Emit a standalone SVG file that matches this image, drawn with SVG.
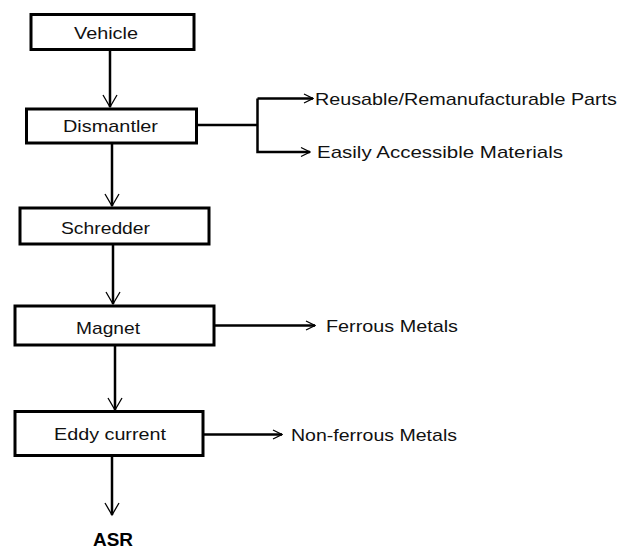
<svg xmlns="http://www.w3.org/2000/svg" width="634" height="549" viewBox="0 0 634 549">
<style>
.box{fill:#fff;stroke:#000;stroke-width:3}
.lbl{font-family:"Liberation Sans",Arial,sans-serif;font-size:17px;fill:#111}
.c{text-anchor:middle}
.con{fill:none;stroke:#000;stroke-width:2.5}
.bold{font-family:"Liberation Sans",Arial,sans-serif;font-size:18px;font-weight:bold;fill:#000;text-anchor:middle}
</style>
<defs>
<marker id="ad" markerUnits="userSpaceOnUse" markerWidth="16" markerHeight="18" viewBox="-13 -9 15 18" refX="0" refY="0" orient="auto">
<path d="M-12,-7 L0,0 L-12,7" fill="none" stroke="#000" stroke-width="1.3"/>
</marker>
<marker id="ar" markerUnits="userSpaceOnUse" markerWidth="12" markerHeight="12" viewBox="-11 -6 12 12" refX="0" refY="0" orient="auto">
<path d="M-9,-4.5 L0,0 L-9,4.5" fill="none" stroke="#000" stroke-width="1.3"/>
</marker>
</defs>
<rect width="634" height="549" fill="#fff"/>
<g id="connectors">
<line class="con" x1="110" y1="50" x2="110" y2="107" marker-end="url(#ad)"/>
<line class="con" x1="112" y1="144" x2="112" y2="206" marker-end="url(#ad)"/>
<line class="con" x1="113" y1="245" x2="113" y2="304" marker-end="url(#ad)"/>
<line class="con" x1="115" y1="346" x2="115" y2="410" marker-end="url(#ad)"/>
<line class="con" x1="112" y1="456" x2="112" y2="515" marker-end="url(#ad)"/>
<polyline class="con" points="197,125 257.5,125"/>
<polyline class="con" points="257.5,98.5 257.5,152 310,152" marker-end="url(#ar)"/>
<line class="con" x1="257.5" y1="98.5" x2="313" y2="98.5" marker-end="url(#ar)"/>
<line class="con" x1="214" y1="325.5" x2="315" y2="325.5" marker-end="url(#ar)"/>
<line class="con" x1="203" y1="434.5" x2="282" y2="434.5" marker-end="url(#ar)"/>
</g>
<g id="vehicle">
<rect class="box" x="31" y="14.5" width="163" height="35"/>
<text class="lbl c" x="106" y="39" textLength="64" lengthAdjust="spacingAndGlyphs">Vehicle</text>
</g>
<g id="dismantler">
<rect class="box" x="26.5" y="109" width="170" height="34"/>
<text class="lbl c" x="110.5" y="132" textLength="95" lengthAdjust="spacingAndGlyphs">Dismantler</text>
</g>
<g id="schredder">
<rect class="box" x="20" y="208" width="189" height="36"/>
<text class="lbl c" x="105.5" y="234" textLength="89" lengthAdjust="spacingAndGlyphs">Schredder</text>
</g>
<g id="magnet">
<rect class="box" x="15" y="306" width="199" height="39"/>
<text class="lbl c" x="108" y="334" textLength="64" lengthAdjust="spacingAndGlyphs">Magnet</text>
</g>
<g id="eddy">
<rect class="box" x="15" y="411.5" width="188" height="44"/>
<text class="lbl c" x="110" y="440" textLength="112" lengthAdjust="spacingAndGlyphs">Eddy current</text>
</g>
<g id="reusable">
<text class="lbl" x="315" y="105" textLength="302" lengthAdjust="spacingAndGlyphs">Reusable/Remanufacturable Parts</text>
</g>
<g id="easily">
<text class="lbl" x="317" y="158" textLength="246" lengthAdjust="spacingAndGlyphs">Easily Accessible Materials</text>
</g>
<g id="ferrous">
<text class="lbl" x="326" y="332" textLength="132" lengthAdjust="spacingAndGlyphs">Ferrous Metals</text>
</g>
<g id="nonferrous">
<text class="lbl" x="291" y="441" textLength="166" lengthAdjust="spacingAndGlyphs">Non-ferrous Metals</text>
</g>
<g id="asr">
<text class="bold" x="113" y="546" textLength="40" lengthAdjust="spacingAndGlyphs">ASR</text>
</g>
</svg>
